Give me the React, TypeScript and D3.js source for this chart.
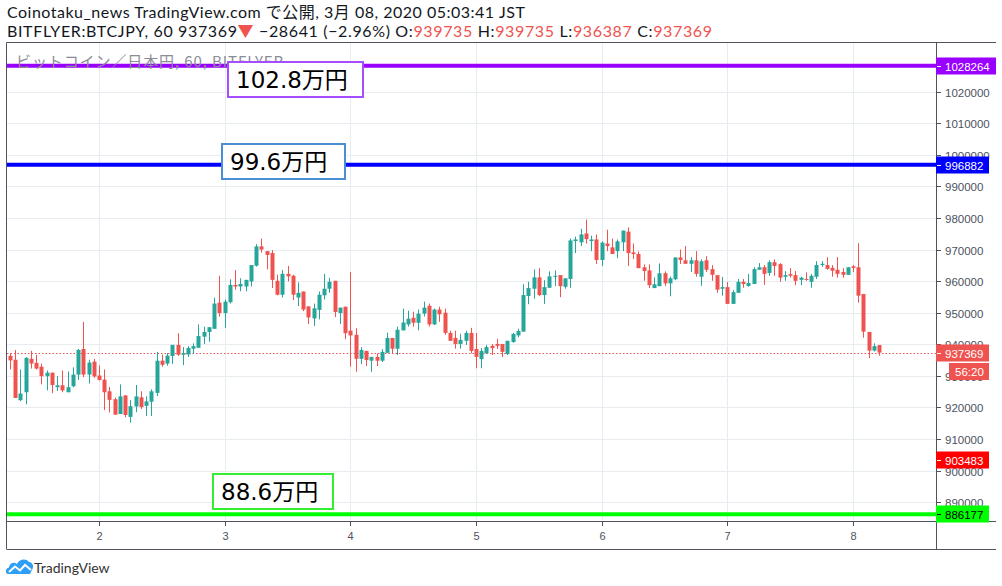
import React from 'react';
import * as d3 from 'd3';

// hourly candles, BITFLYER:BTCJPY, from 2020-03-01 07:00 JST
const START = Date.UTC(2020, 2, 1, 7);
const opens = [
  936350, 935100, 922300, 924800, 935400, 934100, 932900, 929900, 931000, 926400,
  927000, 924800, 926700, 930400, 938500, 930400, 934500, 930100, 928800, 925100,
  922600, 917900, 923800, 917000, 920300, 923200, 920500, 921800, 924600, 934800,
  933900, 936300, 939800, 936700, 936800, 938600, 938900, 942400, 943900, 944900,
  953200, 949900, 953300, 958800, 958300, 958300, 959900, 964900, 971000, 969500,
  968900, 960100, 955700, 962300, 961700, 954800, 956700, 952000, 948200, 950900,
  955500, 957600, 960100, 949900, 951900, 944300, 943000, 935400, 937900, 934800,
  936000, 934800, 937300, 942000, 938600, 944400, 946300, 948400, 946800, 949700,
  952200, 946300, 951000, 950000, 943600, 942000, 940100, 941100, 943600, 938500,
  935300, 937100, 939500, 940100, 940100, 936900, 940700, 942800, 944000, 955300,
  957600, 961200, 955600, 957900, 961500, 961900, 958200, 960700, 972700, 972300,
  975100, 972700, 973200, 966700, 971900, 970700, 969500, 972300, 975700, 969100,
  968600, 964400, 963400, 957800, 958400, 962500, 959300, 960600, 967500, 966600,
  965500, 966600, 961400, 966600, 963800, 961900, 957600, 958100, 952800, 956300,
  959800, 958500, 959100, 963600, 964400, 962600, 966000, 965400, 961400, 962200,
  961900, 960400, 960700, 959800, 961400, 965100, 965100, 964200, 963600, 962900,
  962000, 964700, 964400, 955900, 943900, 938000, 939735,
];
const highs = [
  937200, 938200, 932000, 935900, 937900, 936700, 933900, 931700, 931000, 929900,
  931700, 931400, 932700, 938500, 947100, 935100, 935400, 933300, 932000, 926500,
  923100, 927300, 923800, 922300, 927100, 925100, 923500, 925700, 937600, 936700,
  937200, 939800, 943500, 939100, 939400, 940300, 946300, 945600, 945400, 954800,
  961700, 954200, 960600, 963500, 960900, 960400, 965100, 971700, 973500, 969500,
  969800, 962000, 963500, 964800, 962000, 959600, 956700, 952000, 952900, 956700,
  962300, 961000, 960100, 951600, 951900, 962900, 945100, 939100, 937900, 936000,
  937100, 938500, 943700, 942000, 945600, 951300, 950600, 950300, 951000, 953500,
  952900, 951300, 951900, 951300, 944300, 944300, 943300, 944300, 945200, 943600,
  938800, 939800, 940100, 941700, 940100, 941100, 943600, 944900, 959000, 959800,
  963700, 964100, 960300, 963100, 963400, 961900, 960900, 973500, 974100, 976600,
  979500, 974400, 974800, 972600, 976300, 973500, 973200, 976000, 977000, 971900,
  969400, 965300, 965300, 961200, 965600, 963100, 961500, 967500, 970000, 971100,
  967600, 969500, 966900, 967900, 965100, 961900, 961300, 959700, 957200, 960700,
  960700, 962300, 964400, 965700, 965100, 966600, 966900, 965700, 963200, 964100,
  963200, 961400, 962800, 962300, 966300, 966300, 967600, 965100, 967600, 964100,
  964400, 965100, 972000, 955900, 943900, 940300, 939735,
];
const lows = [
  932000, 923000, 922000, 921000, 932300, 932000, 927300, 925400, 924500, 925200,
  924800, 924800, 926400, 928700, 929600, 927600, 929400, 928500, 919200, 918400,
  917700, 917900, 916900, 915200, 918500, 919500, 917300, 917300, 923600, 932900,
  933200, 933800, 936300, 933400, 936000, 936900, 938900, 940100, 940800, 944900,
  948800, 945200, 952900, 957300, 956800, 956800, 958300, 964600, 969000, 963700,
  957800, 955500, 954800, 959900, 954000, 952100, 950500, 946400, 945800, 947900,
  954200, 956300, 948600, 946400, 941600, 932900, 931300, 933700, 933100, 931300,
  933100, 934400, 937300, 937100, 936600, 944400, 945600, 945600, 944400, 948800,
  945600, 946100, 947100, 943000, 941100, 938600, 938600, 939800, 937100, 932400,
  932400, 937100, 936600, 938500, 936000, 936600, 940500, 942200, 944000, 952700,
  954400, 955200, 952800, 957900, 958400, 954900, 957600, 957900, 968900, 971100,
  971900, 969500, 965400, 964800, 969500, 968600, 967300, 969500, 964800, 967000,
  964100, 960100, 957800, 957800, 958400, 958400, 955200, 960300, 965400, 965500,
  962900, 961400, 958500, 962900, 960100, 956300, 955400, 952800, 952800, 956300,
  957900, 958200, 959100, 963600, 958800, 961700, 961700, 959800, 960100, 961100,
  958700, 958700, 960100, 957900, 960700, 964500, 963600, 961400, 961100, 961100,
  962000, 962900, 953200, 942100, 935600, 937700, 936387,
];
const closes = [
  934900, 923000, 924400, 935700, 933900, 932300, 929900, 931000, 927100, 927000,
  925400, 926400, 930400, 938200, 930400, 934200, 929800, 928700, 924800, 922400,
  917700, 923500, 917600, 920400, 923500, 920100, 921900, 925100, 934800, 933500,
  936400, 939800, 936700, 937200, 938800, 939400, 942600, 943900, 945400, 952900,
  949900, 953500, 958800, 958300, 959100, 960400, 965100, 971000, 970000, 968300,
  960400, 955700, 962300, 961500, 955700, 956300, 951000, 948500, 951400, 955700,
  957600, 959800, 950200, 951600, 943500, 942800, 935400, 938200, 935000, 936000,
  934800, 937600, 942000, 938600, 944600, 946900, 948100, 946800, 949700, 951600,
  946300, 951000, 949500, 943600, 941100, 940100, 941400, 943600, 937900, 936000,
  937900, 939100, 938800, 939500, 937600, 941100, 943300, 944200, 955600, 957800,
  961200, 955600, 958100, 961500, 961700, 958400, 960900, 972900, 973200, 974800,
  973300, 973200, 966700, 972200, 971100, 968600, 972600, 976000, 968900, 968600,
  964100, 963200, 958700, 959000, 962500, 959300, 960900, 967500, 966700, 965500,
  966600, 962300, 966300, 963600, 962000, 957300, 958100, 952800, 956500, 959800,
  959100, 959400, 963800, 964400, 962300, 966000, 964800, 961100, 961900, 961700,
  960100, 961100, 960400, 961700, 965100, 965500, 963900, 963300, 962300, 962000,
  964400, 964200, 955400, 944000, 938000, 939400, 937369,
];

const dayTicks = [2, 3, 4, 5, 6, 7, 8];
const priceTicks = [890000, 900000, 910000, 920000, 930000, 940000, 950000, 960000, 970000, 980000, 990000, 1000000, 1010000, 1020000];

// horizontal levels drawn on the chart
const levelPrices = [1028264, 996882, 886177];
const levelNotes = ['102.8万円', '99.6万円', '88.6万円'];
const lastPrice = 937369;
const countdown = '56:20';
const alertPrice = 903483;

const UP = '#26a69a';
const DOWN = '#ef5350';
const AXIS_TEXT = '#4c525e';
const GRID = '#e6ecf0';
const FRAME = '#50535e';

const W = 1002;
const H = 586;
const plot = { left: 7, right: 936, top: 42.5, bottom: 521 };
const axisRight = 996;
const timeAxisBottom = 549;

const levelStyle = [
  { line: '#9900ff', box: '#a64dff', tag: '#9900ff', tagText: '#fff', bx: 228, by: 62, bw: 135, bh: 35 },
  { line: '#0000ff', box: '#4a8fd6', tag: '#0000ff', tagText: '#fff', bx: 222, by: 144, bw: 123, bh: 35 },
  { line: '#00ff00', box: '#33ee33', tag: '#00ff00', tagText: '#000', bx: 213, by: 474, bw: 120, bh: 35 },
];

export default function App() {
  const x = d3.scaleUtc()
    .domain([new Date(Date.UTC(2020, 2, 2)), new Date(Date.UTC(2020, 2, 8))])
    .range([99, 853]);
  const y = d3.scaleLinear()
    .domain([884020, 1035590])
    .range([plot.bottom, plot.top]);

  const candles = opens.map((o, i) => ({
    t: new Date(START + i * 3600 * 1000),
    o, h: highs[i], l: lows[i], c: closes[i],
  }));
  const bodyW = 4;

  const tag = (price: number, fill: string, color: string, text: string, w = 53, key?: string) => {
    const cy = Math.round(y(price));
    return (
      <g key={key}>
        <rect x={plot.right} y={cy - 8.5} width={w} height={17} fill={fill} />
        <line x1={plot.right + 1} x2={plot.right + 5} y1={cy + 0.5} y2={cy + 0.5} stroke={color} />
        <text x={945} y={cy + 4.5} fill={color} fontSize={11.5} fontFamily="'Liberation Sans', Arial, sans-serif">{text}</text>
      </g>
    );
  };

  const lastY = Math.round(y(lastPrice)) + 0.5;

  return (
    <svg width={W} height={H} style={{ position: 'absolute', left: 0, top: 0, background: '#fff' }}>
      <rect width={W} height={H} fill="#fff" />

      {/* header */}
      <g fontFamily="Lato, 'Noto Sans CJK JP', sans-serif" fontSize={16} fill="#131722">
        <text x={7} y={18} textLength={518} lengthAdjust="spacing">Coinotaku_news TradingView.com で公開, 3月 08, 2020 05:03:41 JST</text>
        <text x={7} y={37} textLength={705} lengthAdjust="spacing">
          BITFLYER:BTCJPY, 60 937369<tspan fill={DOWN}>▼</tspan> −28641 (−2.96%) O:<tspan fill={DOWN}>939735</tspan> H:<tspan fill={DOWN}>939735</tspan> L:<tspan fill={DOWN}>936387</tspan> C:<tspan fill={DOWN}>937369</tspan>
        </text>
      </g>

      {/* grid */}
      <g>
        {priceTicks.map(p => (
          <line key={p} x1={plot.left} x2={plot.right} y1={Math.round(y(p)) + 0.5} y2={Math.round(y(p)) + 0.5} stroke={GRID} />
        ))}
        {dayTicks.map(d => {
          const px = Math.round(x(new Date(Date.UTC(2020, 2, d)))) + 0.5;
          return <line key={d} x1={px} x2={px} y1={plot.top} y2={plot.bottom} stroke={GRID} />;
        })}
      </g>

      {/* levels */}
      {levelPrices.map((p, i) => (
        <line key={p} x1={plot.left} x2={plot.right} y1={y(p)} y2={y(p)} stroke={levelStyle[i].line} strokeWidth={4} />
      ))}

      {/* current price line */}
      <line x1={plot.left} x2={plot.right} y1={lastY} y2={lastY} stroke={DOWN} strokeDasharray="1.5 2" />

      {/* candles */}
      <g>
        {candles.map((d, i) => {
          const cx = Math.round(x(d.t)) + 0.5;
          const col = d.c >= d.o ? UP : DOWN;
          const top = y(Math.max(d.o, d.c));
          const bot = y(Math.min(d.o, d.c));
          return (
            <g key={i}>
              <line x1={cx} x2={cx} y1={y(d.h)} y2={y(d.l)} stroke={col} />
              <rect x={cx - bodyW / 2} y={top} width={bodyW} height={Math.max(1, bot - top)} fill={col} />
            </g>
          );
        })}
      </g>

      {/* series legend */}
      <text x={16} y={67} fontFamily="'Noto Sans CJK JP', sans-serif" fontSize={15} fill="#8a8d96" textLength={267} lengthAdjust="spacing">ビットコイン／日本円, 60, BITFLYER</text>

      {/* note boxes */}
      {levelNotes.map((n, i) => {
        const s = levelStyle[i];
        return (
          <g key={n}>
            <rect x={s.bx} y={s.by} width={s.bw} height={s.bh} fill="#fff" stroke={s.box} strokeWidth={2} />
            <text x={s.bx + 8} y={s.by + 26} fontFamily="'DejaVu Sans', 'Noto Sans CJK JP', sans-serif" fontSize={23} fill="#000">{n}</text>
          </g>
        );
      })}

      {/* frame */}
      <g fill="none" stroke={FRAME}>
        <line x1={plot.left - 0.5} x2={axisRight} y1={plot.top} y2={plot.top} />
        <line x1={plot.left - 0.5} x2={plot.left - 0.5} y1={plot.top} y2={timeAxisBottom} />
        <line x1={plot.right + 0.5} x2={plot.right + 0.5} y1={plot.top} y2={timeAxisBottom} />
        <line x1={plot.left - 0.5} x2={axisRight} y1={plot.bottom + 0.5} y2={plot.bottom + 0.5} />
        <line x1={plot.left - 0.5} x2={axisRight} y1={timeAxisBottom + 0.5} y2={timeAxisBottom + 0.5} />
      </g>

      {/* price axis */}
      <g fontFamily="'Liberation Sans', Arial, sans-serif" fontSize={11.5} fill={AXIS_TEXT}>
        {priceTicks.map(p => {
          const py = Math.round(y(p)) + 0.5;
          return (
            <g key={p}>
              <line x1={plot.right + 1} x2={plot.right + 5} y1={py} y2={py} stroke={AXIS_TEXT} />
              <text x={945} y={py + 4}>{p}</text>
            </g>
          );
        })}
      </g>

      {/* time axis */}
      <g fontFamily="'Liberation Sans', Arial, sans-serif" fontSize={11} fill={AXIS_TEXT} textAnchor="middle">
        {dayTicks.map(d => {
          const px = Math.round(x(new Date(Date.UTC(2020, 2, d)))) + 0.5;
          return (
            <g key={d}>
              <line x1={px} x2={px} y1={plot.bottom + 1} y2={plot.bottom + 5} stroke={AXIS_TEXT} />
              <text x={px} y={540}>{d}</text>
            </g>
          );
        })}
      </g>

      {/* axis tags */}
      {levelPrices.map((p, i) => tag(p, levelStyle[i].tag, levelStyle[i].tagText, String(p), i === 0 ? 60 : 53, 'lv' + p))}
      {tag(alertPrice, '#ff0000', '#fff', String(alertPrice))}
      {tag(lastPrice, DOWN, '#fff', String(lastPrice))}
      <rect x={949} y={Math.round(y(lastPrice)) + 10} width={40} height={17} fill={DOWN} />
      <text x={955} y={Math.round(y(lastPrice)) + 23} fill="#fff" fontSize={11.5} fontFamily="'Liberation Sans', Arial, sans-serif">{countdown}</text>

      {/* logo */}
      <g transform="translate(6,558)">
        <path d="M2 16 C-1 16 -1 10 3 9.5 C3.5 5 8 3.5 11 6 C13 1 20 0 23 4 C26.5 4 28 8 26.5 11 L24 16 Z" fill="#2f9ef5" />
        <path d="M3 14 L9 8.5 L14 12.5 L19 7 L25 12" fill="none" stroke="#fff" strokeWidth={2} />
      </g>
      <text x={34} y={573} fontFamily="Lato, sans-serif" fontSize={14} fill="#333">TradingView</text>
    </svg>
  );
}
